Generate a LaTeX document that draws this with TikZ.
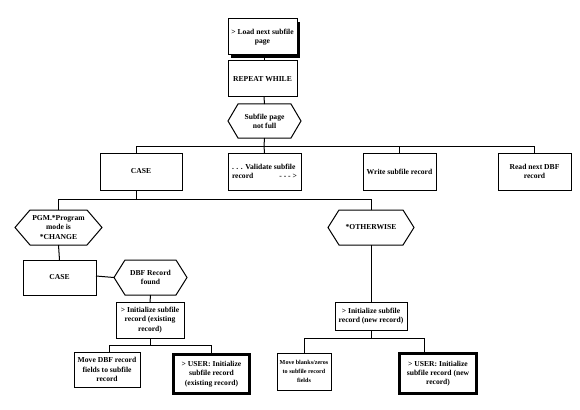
\documentclass[tikz,border=0pt]{standalone}
\usepackage{fontspec}
\setmainfont{Liberation Serif}
\usetikzlibrary{shadows}
\tikzset{
  base/.style={font=\fontsize{7.6}{9.2}\selectfont\bfseries, align=center, inner sep=0pt, outer sep=0pt},
  box/.style={base, draw, line width=1pt, fill=white},
  thickbox/.style={base, draw, line width=3pt, fill=white},
  hexn/.style={base},
  conn/.style={line width=1pt},
}
\newcommand\hexpath[2]{\draw[line width=1pt] (#1.west) -- ([xshift=#2]#1.north west) -- ([xshift=-#2]#1.north east) -- (#1.east) -- ([xshift=-#2]#1.south east) -- ([xshift=#2]#1.south west) -- cycle;}
\begin{document}
\begin{tikzpicture}[x=1pt,y=-1pt]
\useasboundingbox[fill=white] (0,0) rectangle (580,409);
% top column
\node[box, minimum width=69pt, minimum height=36pt, drop shadow={shadow xshift=3pt, shadow yshift=-3pt, fill=black, opacity=1}] (load) at (262.5,37) {> Load next subfile\\page};
\node[box, minimum width=69pt, minimum height=36pt] (rep) at (262.5,79) {REPEAT WHILE};
\node[hexn, minimum width=73pt, minimum height=34pt] (hex1) at (264.5,121) {Subfile page\\not full};
\hexpath{hex1}{10pt}
% row 2
\node[box, minimum width=82pt, minimum height=37pt] (case1) at (141,171.5) {CASE};
\node[box, minimum width=73pt, minimum height=37pt, align=left] (valid) at (264.5,171.5) {. . . Validate subfile\\record\hspace{26pt}- - - >};
\node[box, minimum width=73pt, minimum height=37pt] (write) at (399.5,171.5) {Write subfile record};
\node[box, minimum width=73pt, minimum height=37pt] (readdbf) at (534.5,171.5) {Read next DBF\\record};
% row 3
\node[hexn, minimum width=87pt, minimum height=35pt] (pgm) at (58.5,227.5) {PGM.*Program\\mode is\\*CHANGE};
\hexpath{pgm}{15pt}
\node[hexn, minimum width=86pt, minimum height=35pt] (oth) at (371,227.5) {*OTHERWISE};
\hexpath{oth}{11pt}
% row 4 left
\node[box, minimum width=73pt, minimum height=35pt] (case2) at (59.5,277.5) {CASE};
\node[hexn, minimum width=73pt, minimum height=35pt] (dbf) at (150.5,277.5) {DBF Record\\found};
\hexpath{dbf}{11pt}
\node[box, minimum width=68pt, minimum height=36pt] (initE) at (150,320) {> Initialize subfile\\record (existing\\record)};
\node[box, minimum width=66pt, minimum height=35pt] (moveD) at (107,369.5) {Move DBF record\\fields to subfile\\record};
\node[thickbox, minimum width=76pt, minimum height=39pt] (userE) at (211.5,374) {> USER: Initialize\\subfile record\\(existing record)};
% right branch
\node[box, minimum width=72pt, minimum height=28pt] (initN) at (371,316) {> Initialize subfile\\record (new record)};
\node[box, minimum width=54pt, minimum height=37pt, font=\fontsize{6.1}{9}\selectfont\bfseries] (moveB) at (304,371.5) {Move blanks/zeros\\to subfile record\\fields};
\node[thickbox, minimum width=77pt, minimum height=40pt] (userN) at (438,373.5) {> USER: Initialize\\subfile record (new\\record)};
% bus coordinates
\coordinate (b1) at (264,146);
\coordinate (b2) at (136,199);
\coordinate (b3) at (150,345);
\coordinate (b4) at (371,338);
% connectors
\draw[conn] ([xshift=1.5pt]load.south) -- ([xshift=1.5pt]rep.north);
\draw[conn] ([xshift=1.5pt]rep.south) -- (hex1.north);
\draw[conn] (hex1.south) -- (b1);
\draw[conn] ([xshift=-5pt]case1.north) |- (b1);
\draw[conn] (valid.north) -- (b1);
\draw[conn] (write.north) |- (b1);
\draw[conn] (readdbf.north) |- (b1);
\draw[conn] ([xshift=-5pt]case1.south) -- (b2);
\draw[conn] (pgm.north) |- (b2);
\draw[conn] (oth.north) |- (b2);
\draw[conn] (pgm.south) -- (case2.north);
\draw[conn] ([yshift=1.5pt]case2.east) -- (dbf.west);
\draw[conn] (dbf.south) -- (initE.north);
\draw[conn] (initE.south) -- (b3);
\draw[conn] ([xshift=2pt]moveD.north) |- (b3);
\draw[conn] (userE.north) |- (b3);
\draw[conn] (oth.south) -- (initN.north);
\draw[conn] (initN.south) -- (b4);
\draw[conn] (moveB.north) |- (b4);
\draw[conn] ([xshift=-14pt]userN.north) |- (b4);
\end{tikzpicture}
\end{document}
